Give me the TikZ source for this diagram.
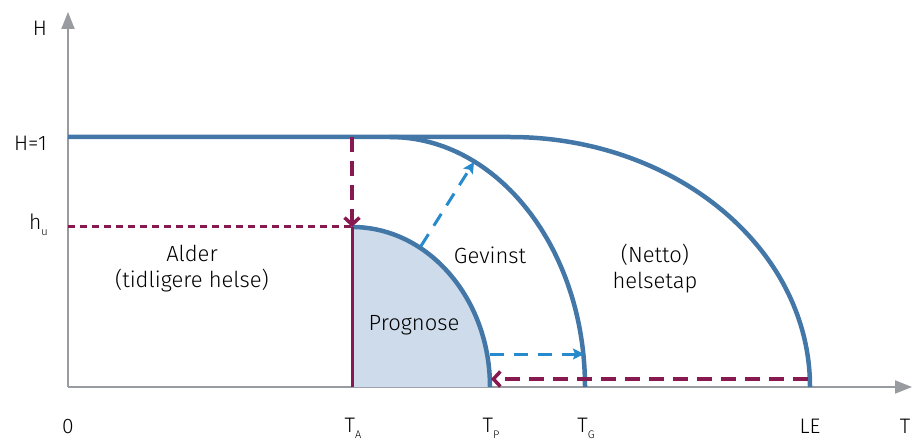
\documentclass[tikz,border=0pt]{standalone}
\usepackage{fontspec}
\setmainfont{Fira Sans}[UprightFont=* Light]
\usetikzlibrary{arrows.meta}
\definecolor{curveblue}{RGB}{67,119,168}
\definecolor{fillblue}{RGB}{206,219,234}
\definecolor{gainblue}{RGB}{38,138,204}
\definecolor{lossred}{RGB}{136,24,80}
\definecolor{axisgray}{RGB}{152,156,160}
\newcommand{\lowsub}[1]{\raisebox{-6pt}{\fontsize{11}{11}\selectfont #1}}
\tikzset{
    axisline/.style={draw=axisgray, line width=2pt, -{Triangle[length=17pt, width=13pt]}},
    curveline/.style={draw=curveblue, line width=4.5pt},
    lossarrow/.style={draw=lossred, line width=3.5pt, dash pattern=on 15pt off 9pt, -{Straight Barb[length=7pt, width=15pt]}},
    levelline/.style={draw=lossred, line width=3pt, dash pattern=on 7pt off 5pt},
    gainarrow/.style={draw=gainblue, line width=3pt, dash pattern=on 14pt off 10pt, -{Stealth[length=11pt, width=11pt, inset=2pt]}},
    ticklabel/.style={font=\fontsize{21}{25}\selectfont, anchor=base, inner sep=0pt},
    arealabel/.style={font=\fontsize{22}{26}\selectfont, align=center, inner sep=0pt}
}
\begin{document}
\begin{tikzpicture}[x=1pt, y=1pt]
    \useasboundingbox (0,0) rectangle (912,442);
    % axes
    \coordinate (origin) at (68,55);
    \coordinate (ytop) at (68,430);
    \coordinate (xend) at (912,55);
    \draw[axisline] (origin) -- (ytop);
    \draw[axisline] (origin) -- (xend);
    % key points
    \coordinate (one) at (68,305);
    \coordinate (ta) at (352,55);
    \coordinate (taone) at (352,305);
    \coordinate (hu) at (352,215);
    \coordinate (huaxis) at (68,215);
    % prognose area
    \fill[fillblue] (ta) -- (hu) arc[start angle=90, end angle=0, x radius=138, y radius=160] -- cycle;
    \draw[curveline] (hu) arc[start angle=90, end angle=0, x radius=138, y radius=160] coordinate (tp);
    % health curves
    \draw[curveline] (one) -- (510,305) arc[start angle=90, end angle=0, x radius=300, y radius=250] coordinate (le);
    \draw[curveline] (390,305) arc[start angle=90, end angle=0, x radius=195, y radius=250] coordinate (tg);
    % drop and level lines
    \draw[lossred, line width=3pt] (ta) -- (hu);
    \draw[lossarrow] (taone) -- (hu);
    \draw[levelline] (huaxis) -- (hu);
    \coordinate (lestart) at (808,63);
    \coordinate (tpend) at (491,63);
    \draw[lossarrow] (lestart) -- (tpend);
    % gain arrows
    \coordinate (gainfrom) at (421,196);
    \coordinate (gainto) at (474,280);
    \draw[gainarrow] (gainfrom) -- (gainto);
    \coordinate (shiftfrom) at (490,88);
    \coordinate (shiftto) at (584,88);
    \draw[gainarrow] (shiftfrom) -- (shiftto);
    % labels
    \node[ticklabel] (hlabel) at (40,406) {H};
    \node[ticklabel, anchor=base east] (onelabel) at (47,291) {H=1};
    \node[ticklabel, anchor=base west] (hulabel) at (29,212) {h\lowsub{u}};
    \node[ticklabel] (zerolabel) at (68,9) {0};
    \node[ticklabel] (talabel) at (353,10) {T\lowsub{A}};
    \node[ticklabel] (tplabel) at (491,10) {T\lowsub{P}};
    \node[ticklabel] (tglabel) at (586,10) {T\lowsub{G}};
    \node[ticklabel] (lelabel) at (810,9) {LE};
    \node[ticklabel] (tlabel) at (905,9) {T};
    \node[arealabel] (alder) at (192,173) {Alder\\(tidligere helse)};
    \node[arealabel] (gevinst) at (490,187) {Gevinst};
    \node[arealabel] (netto) at (655,173) {(Netto)\\helsetap};
    \node[arealabel] (prognose) at (414,117) {Prognose};
\end{tikzpicture}
\end{document}
